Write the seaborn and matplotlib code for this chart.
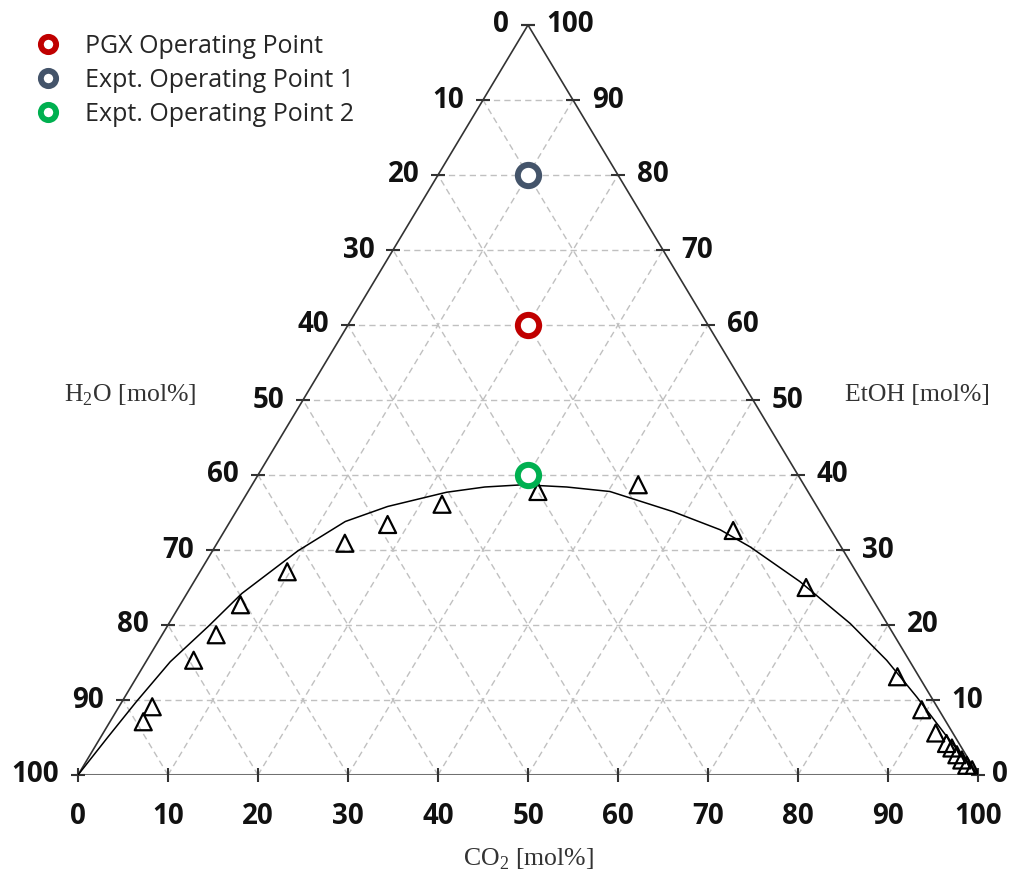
import numpy as np
import matplotlib
matplotlib.use('Agg')
import matplotlib.pyplot as plt
from matplotlib.lines import Line2D
import seaborn as sns

# phase envelope (fitted curve): CO2 / EtOH in mol%
curve_co2 = [0, 0.8, 1.6, 2.7, 4.6, 6.1, 9.5, 12.8, 16.5, 22.1, 26.0, 30.1, 35.1,
             40.2, 48.6, 55.0, 59.5, 67.3, 75.7, 82.2, 88.0, 94.0, 100]
curve_etoh = [0, 5.1, 9.8, 15.1, 19.9, 24.2, 29.9, 33.8, 35.8, 37.7, 38.4, 38.7, 38.4,
              37.8, 35.1, 32.7, 30.4, 25.8, 20.2, 15.3, 10.4, 5.1, 0]

# measured data (triangles)
meas_co2 = [3.7, 3.7, 5.2, 6.0, 6.7, 9.7, 14.2, 17.7, 22.4, 32.2, 42.9, 56.5, 68.4,
            84.5, 89.4, 92.5, 94.4, 95.3, 96.3, 97.2, 98.1, 99.0]
meas_etoh = [7.1, 9.1, 15.3, 18.7, 22.7, 27.1, 30.9, 33.4, 36.1, 37.8, 38.7, 32.6, 25.0,
             13.1, 8.7, 5.6, 4.2, 3.6, 2.7, 2.0, 1.3, 0.7]

# operating points
op_names = ['PGX Operating Point', 'Expt. Operating Point 1', 'Expt. Operating Point 2']
op_co2 = [20, 10, 30]
op_etoh = [60, 80, 40]
op_colors = ['#C00000', '#44546A', '#00B050']

ticks = list(range(0, 101, 10))


def to_xy(co2, etoh):
    co2 = np.asarray(co2, dtype=float)
    etoh = np.asarray(etoh, dtype=float)
    return co2 + etoh / 2, etoh


sns.set_theme(style='white')
plt.rcParams['font.family'] = ['Open Sans', 'DejaVu Sans']

fig = plt.figure(figsize=(10.1, 8.75), dpi=100)
ax = fig.add_axes([78 / 1010, 100 / 875, 900 / 1010, 750 / 875])
ax.set_xlim(0, 100)
ax.set_ylim(0, 100)
ax.axis('off')

# grid
grid_kw = dict(color='#c0c0c0', lw=1.0, ls=(0, (4.5, 3)), zorder=1)
for v in ticks[1:-1]:
    x, y = to_xy([0, 100 - v], [v, v])          # const EtOH
    ax.plot(x, y, **grid_kw)
    x, y = to_xy([v, v], [0, 100 - v])          # const CO2
    ax.plot(x, y, **grid_kw)
    x, y = to_xy([100 - v, 0], [0, 100 - v])    # const H2O
    ax.plot(x, y, **grid_kw)

# triangle frame
x, y = to_xy([0, 0, 100], [0, 100, 0])
ax.plot(x, y, color='#333333', lw=1.2, zorder=2)
x, y = to_xy([0, 100], [0, 0])
ax.plot(x, y, color='#707070', lw=2.2, zorder=2)

# ticks + labels
tick_kw = dict(ls='', color='#333333', mew=1.5, ms=10, zorder=2, clip_on=False)
lab_kw = dict(textcoords='offset points', fontsize=20, fontweight='bold',
              color='#111111', va='center', annotation_clip=False)
# left side: H2O
lx, ly = to_xy([0] * 11, [100 - w for w in ticks])
ax.plot(lx, ly, marker='_', **tick_kw)
for w, xx, yy in zip(ticks, lx, ly):
    ax.annotate(str(w), (xx, yy), xytext=(-13.5, 0), ha='right', **lab_kw)
# right side: EtOH
rx, ry = to_xy([100 - e for e in ticks], ticks)
ax.plot(rx, ry, marker='_', **tick_kw)
for e, xx, yy in zip(ticks, rx, ry):
    off = 13.5 if e > 0 else 10
    ax.annotate(str(e), (xx, yy), xytext=(off, 0), ha='left', **lab_kw)
# bottom: CO2
bx, by = to_xy(ticks, [0] * 11)
ax.plot(bx, by, marker='|', **tick_kw)
for c, xx, yy in zip(ticks, bx, by):
    ax.annotate(str(c), (xx, yy), xytext=(0, -30), ha='center', **lab_kw)

# axis titles
title_kw = dict(family=['Liberation Serif', 'DejaVu Serif'], fontsize=18.5,
                color='#333333', ha='center', va='center')
ax.text(5.8, 50.7, r'H$_\mathregular{2}$O [mol%]', **title_kw)
ax.text(93.3, 50.7, 'EtOH [mol%]', **title_kw)
ax.text(50, -11.3, r'CO$_\mathregular{2}$ [mol%]', **title_kw)

# envelope curve
cx, cy = to_xy(curve_co2, curve_etoh)
sns.lineplot(x=cx, y=cy, sort=False, estimator=None, color='black', lw=1.1,
             ax=ax, zorder=3, legend=False)

# measured points
mx, my = to_xy(meas_co2, meas_etoh)
sns.scatterplot(x=mx, y=my, marker='^', s=150, color='black', facecolor='none',
                edgecolor='black', linewidth=1.6, ax=ax, zorder=4, legend=False)

# operating points
handles = []
for name, c, e, col in zip(op_names, op_co2, op_etoh, op_colors):
    px, py = to_xy([c], [e])
    sns.scatterplot(x=px, y=py, marker='o', s=235, color='white', facecolor='white',
                    edgecolor=col, linewidth=4.3, ax=ax, zorder=5, legend=False)
    handles.append(Line2D([], [], ls='', marker='o', ms=11, mfc='white',
                          mec=col, mew=4.2, label=name))

ax.legend(handles=handles, loc='upper left', bbox_to_anchor=(0.035, 0.961),
          bbox_transform=fig.transFigure, frameon=False, fontsize=18,
          handlelength=1.0, handletextpad=1.0, labelspacing=0.36,
          borderpad=0, borderaxespad=0)

fig.savefig('out.png', dpi=100)
